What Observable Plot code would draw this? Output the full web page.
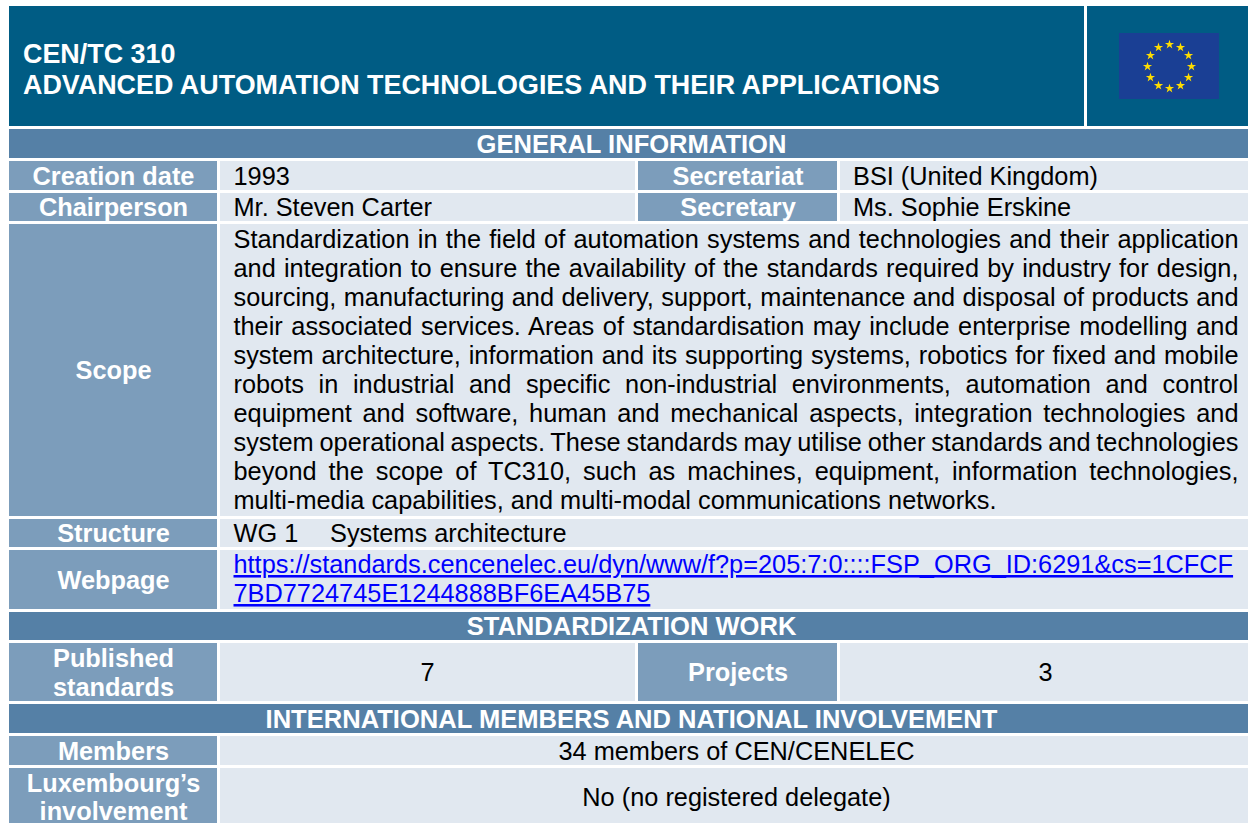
<!DOCTYPE html>
<html>
<head>
<meta charset="utf-8">
<script src="https://cdn.jsdelivr.net/npm/d3@7"></script>
<script src="https://cdn.jsdelivr.net/npm/@observablehq/plot@0.6"></script>
<style>
html,body{margin:0;padding:0;background:#fff}
svg{display:block}
</style>
</head>
<body>
<div id="chart"></div>
<script>
const titleLines = ["CEN/TC 310", "ADVANCED AUTOMATION TECHNOLOGIES AND THEIR APPLICATIONS"];
const sections = ["GENERAL INFORMATION", "STANDARDIZATION WORK", "INTERNATIONAL MEMBERS AND NATIONAL INVOLVEMENT"];
const labels = ["Creation date", "Chairperson", "Scope", "Structure", "Webpage", "Members"];
const midLabels = ["Secretariat", "Secretary", "Projects"];
const scopeLines = [
  "Standardization in the field of automation systems and technologies and their application",
  "and integration to ensure the availability of the standards required by industry for design,",
  "sourcing, manufacturing and delivery, support, maintenance and disposal of products and",
  "their associated services. Areas of standardisation may include enterprise modelling and",
  "system architecture, information and its supporting systems, robotics for fixed and mobile",
  "robots in industrial and specific non-industrial environments, automation and control",
  "equipment and software, human and mechanical aspects, integration technologies and",
  "system operational aspects. These standards may utilise other standards and technologies",
  "beyond the scope of TC310, such as machines, equipment, information technologies,",
  "multi-media capabilities, and multi-modal communications networks."
];
const urlLines = ["https://standards.cencenelec.eu/dyn/www/f?p=205:7:0::::FSP_ORG_ID:6291&cs=1CFCF", "7BD7724745E1244888BF6EA45B75"];
const starAngles = d3.range(12);

// Table grid, in page pixels
const X = {l: 9, a: 217, b: 220, c: 635, d: 638, e: 837, f: 840, r: 1248, h: 1084, i: 1087};
const C = {head: "#005c84", sect: "#5580a6", label: "#7c9dbb", value: "#e1e8f0"};
const cells = [
  [X.l, X.h, 6, 126, C.head], [X.i, X.r, 6, 126, C.head],
  [X.l, X.r, 129, 158, C.sect],
  [X.l, X.a, 161, 190, C.label], [X.b, X.c, 161, 190, C.value], [X.d, X.e, 161, 190, C.label], [X.f, X.r, 161, 190, C.value],
  [X.l, X.a, 193, 221, C.label], [X.b, X.c, 193, 221, C.value], [X.d, X.e, 193, 221, C.label], [X.f, X.r, 193, 221, C.value],
  [X.l, X.a, 224, 516, C.label], [X.b, X.r, 224, 516, C.value],
  [X.l, X.a, 519, 547, C.label], [X.b, X.r, 519, 547, C.value],
  [X.l, X.a, 550, 609, C.label], [X.b, X.r, 550, 609, C.value],
  [X.l, X.r, 612, 640, C.sect],
  [X.l, X.a, 643, 701, C.label], [X.b, X.c, 643, 701, C.value], [X.d, X.e, 643, 701, C.label], [X.f, X.r, 643, 701, C.value],
  [X.l, X.r, 704, 733, C.sect],
  [X.l, X.a, 736, 765, C.label], [X.b, X.r, 736, 765, C.value],
  [X.l, X.a, 768, 823, C.label], [X.b, X.r, 768, 823, C.value],
  [1119, 1219, 33, 99, "#1a3f94"]
].map(([x1, x2, y1, y2, fill]) => ({x1, x2, y1, y2, fill}));

const labelCx = (X.l + X.a) / 2, midCx = (X.d + X.e) / 2;
const sectionRows = [
  {t: sections[0], x: 631, y: 144}, {t: sections[1], x: 631, y: 626}, {t: sections[2], x: 631, y: 719}
];
const boldWhite = [
  {t: labels[0], x: labelCx, y: 176.7}, {t: labels[1], x: labelCx, y: 207.7}, {t: labels[2], x: labelCx, y: 370.3},
  {t: labels[3], x: labelCx, y: 533.3}, {t: labels[4], x: labelCx, y: 580.7}, {t: labels[5], x: labelCx, y: 751},
  {t: "Published", x: labelCx, y: 658.7}, {t: "standards", x: labelCx, y: 687.7},
  {t: "Luxembourg’s", x: labelCx, y: 783}, {t: "involvement", x: labelCx, y: 811.5},
  {t: midLabels[0], x: midCx, y: 176.7}, {t: midLabels[1], x: midCx, y: 207.7}, {t: midLabels[2], x: midCx, y: 672.7}
];
const plainLeft = [
  {t: "1993", x: 233, y: 176.3}, {t: "Mr. Steven Carter", x: 233, y: 207.3},
  {t: "BSI (United Kingdom)", x: 852.5, y: 176.3}, {t: "Ms. Sophie Erskine", x: 852.5, y: 207.3},
  {t: "WG 1", x: 233, y: 533.3}, {t: "Systems architecture", x: 329.5, y: 533.3}
];
const plainCenter = [
  {t: "7", x: 427, y: 672.7}, {t: "3", x: 1045, y: 672.7},
  {t: "34 members of CEN/CENELEC", x: 736, y: 751.5},
  {t: "No (no registered delegate)", x: 736, y: 797.5}
];
const scopeRows = scopeLines.map((t, i) => ({t, x: 233, y: 239.5 + i * 29}));
const urlRows = urlLines.map((t, i) => ({t, x: 233, y: 564.4 + i * 29}));
const titleRows = titleLines.map((t, i) => ({t, x: 22.5, y: 54 + i * 31}));
const stars = starAngles.map(i => ({
  x: 1169 + 22 * Math.cos(i * Math.PI / 6),
  y: 66 + 22 * Math.sin(i * Math.PI / 6)
}));

const font = "Liberation Sans";
const body = 25.33;
const chart = Plot.plot({
  width: 1248, height: 823,
  marginTop: 0, marginRight: 0, marginBottom: 0, marginLeft: 0,
  x: {domain: [0, 1248], range: [0, 1248], axis: null},
  y: {domain: [0, 823], range: [0, 823], axis: null},
  style: {background: "#fff", fontFamily: font},
  marks: [
    Plot.rect(cells, {x1: "x1", x2: "x2", y1: "y1", y2: "y2", fill: d => d.fill}),
    Plot.dot(stars, {x: "x", y: "y", symbol: "star", r: 2.9, fill: "#ffdd00"}),
    Plot.text(titleRows, {x: "x", y: "y", text: "t", textAnchor: "start", fontSize: 26.9, fontWeight: "bold", fill: "#fff", fontFamily: font}),
    Plot.text(sectionRows, {x: "x", y: "y", text: "t", fontSize: 25.55, fontWeight: "bold", fill: "#fff", fontFamily: font}),
    Plot.text(boldWhite, {x: "x", y: "y", text: "t", fontSize: body, fontWeight: "bold", fill: "#fff", fontFamily: font}),
    Plot.text(plainLeft, {x: "x", y: "y", text: "t", textAnchor: "start", fontSize: body, fill: "#000", fontFamily: font}),
    Plot.text(plainCenter, {x: "x", y: "y", text: "t", fontSize: body, fill: "#000", fontFamily: font}),
    Plot.text(scopeRows, {x: "x", y: "y", text: "t", textAnchor: "start", fontSize: body, fill: "#000", fontFamily: font, className: "scope"}),
    Plot.text(urlRows, {x: "x", y: "y", text: "t", textAnchor: "start", fontSize: body, fill: "#0000ff", fontFamily: font, className: "url"})
  ]
});
document.getElementById("chart").appendChild(chart);

// Underline the link and justify the scope paragraph, as in the source table
d3.select(chart).selectAll(".url text").style("text-decoration", "underline");
const rightEdge = 1238;
d3.select(chart).selectAll(".scope text").each(function (d, i) {
  if (i >= scopeLines.length - 1) return;
  const spaces = scopeLines[i].split(" ").length - 1;
  const extra = (rightEdge - 233 - this.getComputedTextLength()) / spaces;
  this.style.wordSpacing = extra + "px";
});
</script>
</body>
</html>
